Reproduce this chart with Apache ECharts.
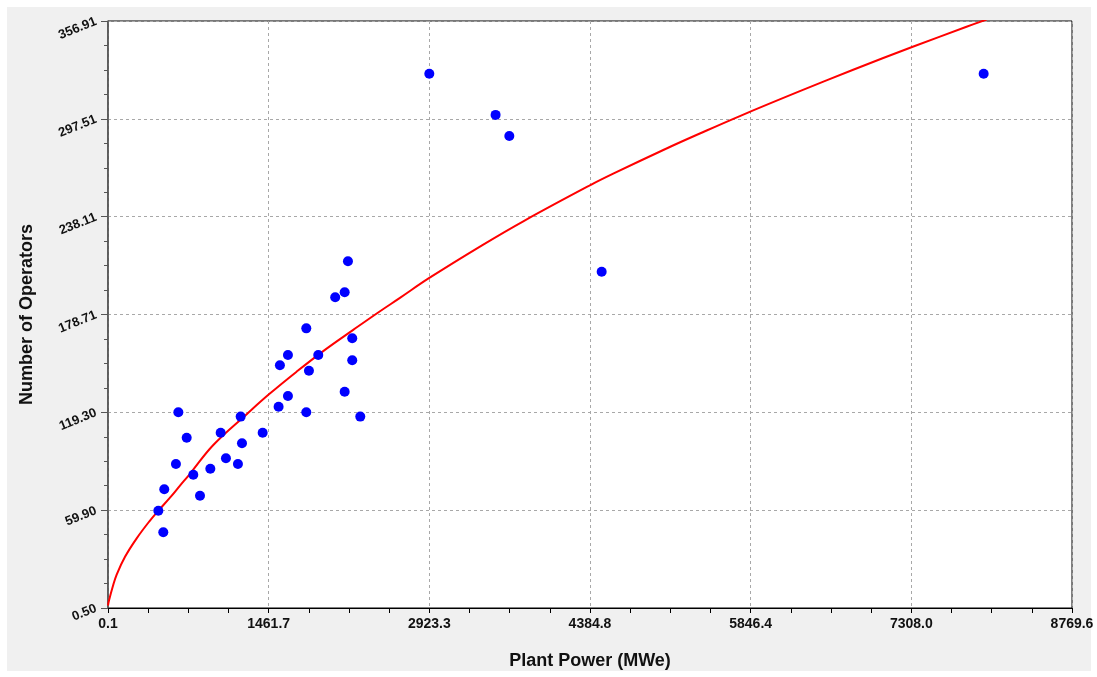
<!DOCTYPE html>
<html>
<head>
<meta charset="utf-8">
<script src="https://cdn.jsdelivr.net/npm/echarts@6/dist/echarts.min.js"></script>
<style>
html,body{margin:0;padding:0;background:#fff;}
#chart{width:1097px;height:677px;}
</style>
</head>
<body>
<div id="chart"></div>
<script>
// Tick labels
const xTickLabels = ['0.1','1461.7','2923.3','4384.8','5846.4','7308.0','8769.6'];
const yTickLabels = ['0.50','59.90','119.30','178.71','238.11','297.51','356.91'];

// Observed data points: [Plant Power (MWe), Number of Operators]
const operatorPoints = [
  [458,59.6],[503,46.5],[512,72.6],[618,87.9],[640,119.3],[716,103.9],[776,81.4],
  [837,68.7],[931,85.1],[1025,106.9],[1073,91.4],[1182,87.9],[1207,116.7],[1219,100.5],
  [1407,106.9],[1552,122.7],[1564,147.9],[1637,129.2],[1637,154.1],[1804,170.3],
  [1804,119.3],[1828,144.6],[1913,154.1],[2067,189.2],[2153,192.2],[2183,211.0],
  [2153,131.8],[2222,164.3],[2222,150.9],[2295,116.7],[2923,324.9],[3526,299.9],
  [3651,287.1],[4491,204.7],[7966,324.9]
];

// Fitted trend curve
const trendCurve = [
  [0.1,2.0],[9,5.0],[43,13.4],[79,20.8],[155,31.6],[261,42.8],[382,53.6],[458,59.6],
  [564,67.5],[655,74.8],[746,82.0],[958,99.5],[1262,118.2],[1467,130.4],[1716,144.0],
  [1958,156.5],[2231,169.4],[2468,180.4],[2656,188.8],[2923,200.9],[3410,221.0],
  [3786,235.6],[4389,257.3],[4596,264.2],[5081,279.5],[5384,288.6],[5748,299.2],
  [6294,314.3],[6779,327.3],[7315,341.1],[7810,353.4],[7992,357.8]
];

const xMin = 0.1, xMax = 8769.6, xInterval = (xMax - xMin) / 6;
const yMin = 0.5, yMax = 356.91, yInterval = (yMax - yMin) / 6;

const chart = echarts.init(document.getElementById('chart'), null, {renderer:'canvas'});
const gridLine = {show:true, lineStyle:{color:'#a8a8a8', type:[3,3], width:1}};
const labelFont = {fontFamily:'Liberation Sans, Arial, sans-serif', fontWeight:'bold', color:'#111'};

chart.setOption({
  backgroundColor:'#ffffff',
  animation:false,
  graphic:[{
    type:'rect', z:-10, silent:true,
    shape:{x:7, y:7, width:1084, height:664},
    style:{fill:'#f0f0f0'}
  }],
  grid:{left:108, top:21, right:25, bottom:69, show:true, backgroundColor:'#ffffff', borderColor:'#000', borderWidth:1},
  xAxis:{
    type:'value', min:xMin, max:xMax, interval:xInterval,
    name:'Plant Power (MWe)', nameLocation:'middle', nameGap:44,
    nameTextStyle:{fontFamily:'Liberation Sans, Arial, sans-serif', fontWeight:'bold', fontSize:18, color:'#111'},
    axisLine:{show:true, onZero:false, lineStyle:{color:'#000', width:1}},
    axisTick:{show:true, length:5, lineStyle:{color:'#000'}},
    minorTick:{show:true, splitNumber:4, length:5, lineStyle:{color:'#000'}},
    axisLabel:Object.assign({fontSize:14, margin:9, showMinLabel:true, showMaxLabel:true,
      formatter:function(v){ return xTickLabels[Math.round((v - xMin) / xInterval)] || ''; }}, labelFont),
    splitLine:gridLine
  },
  yAxis:{
    type:'value', min:yMin, max:yMax, interval:yInterval,
    name:'Number of Operators', nameLocation:'middle', nameGap:72,
    nameTextStyle:{fontFamily:'Liberation Sans, Arial, sans-serif', fontWeight:'bold', fontSize:18, color:'#111'},
    axisLine:{show:true, onZero:false, lineStyle:{color:'#555', width:1.5}},
    axisTick:{show:true, length:7, lineStyle:{color:'#555'}},
    minorTick:{show:true, splitNumber:4, length:4, lineStyle:{color:'#555'}},
    axisLabel:Object.assign({fontSize:13, margin:12, rotate:22, showMinLabel:true, showMaxLabel:true,
      formatter:function(v){ return yTickLabels[Math.round((v - yMin) / yInterval)] || ''; }}, labelFont),
    splitLine:gridLine
  },
  series:[
    {
      type:'line', data:trendCurve, showSymbol:false, smooth:0.4, clip:true,
      lineStyle:{color:'#ff0000', width:2}, z:2
    },
    {
      type:'scatter', data:operatorPoints, symbol:'circle', symbolSize:10,
      itemStyle:{color:'#0000ff', opacity:1}, z:3
    }
  ]
});
</script>
</body>
</html>
